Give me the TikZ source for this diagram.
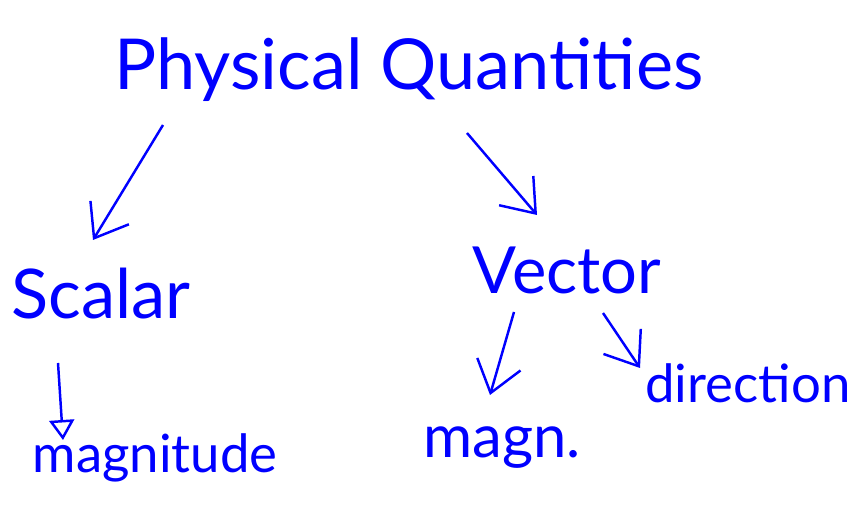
\documentclass[tikz,border=0pt]{standalone}
\usepackage{fontspec}
\setmainfont{Lato}
\usetikzlibrary{arrows.meta,calc}

\begin{document}
\begin{tikzpicture}[x=0.2mm,y=-0.2mm,->,>={Straight Barb[length=6mm,width=9mm]},line width=1.4pt,color=blue,
    word node/.style={inner sep=2pt,text=blue,font=\fontsize{#1}{#1}\selectfont},
    word node/.default=30]
            \useasboundingbox (0,0) rectangle (860,518);

            \node[word node=40] (PQ) at (409,70) {Physical Quantities};

            \node[word node=39] (S) at (101,294) {Scalar};
            \node[word node=37] (V) at (567,270) {Vector};

            \node[word node] (M) at (155,458) {magnitude};
            \node[word node=34] (Mg) at (502,448) {magn.};
            \node[word node] (D) at (748,383) {direction};

            \path
                ($(PQ)+(-246,55)$) edge ($(S)+(-8,-54)$)
                ($(PQ)+(58,63)$) edge ($(V)+(-30,-55)$)
                ($(S)+(-43,69)$) edge[-{Triangle[open,length=4mm,width=5mm]}] ($(M)+(-92,-18)$)
                ($(V)+(-53,42)$) edge ($(Mg)+(-12,-53)$)
                ($(V)+(36,43)$) edge ($(D)+(-108,-15)$)
                ;
        \end{tikzpicture}
\end{document}
